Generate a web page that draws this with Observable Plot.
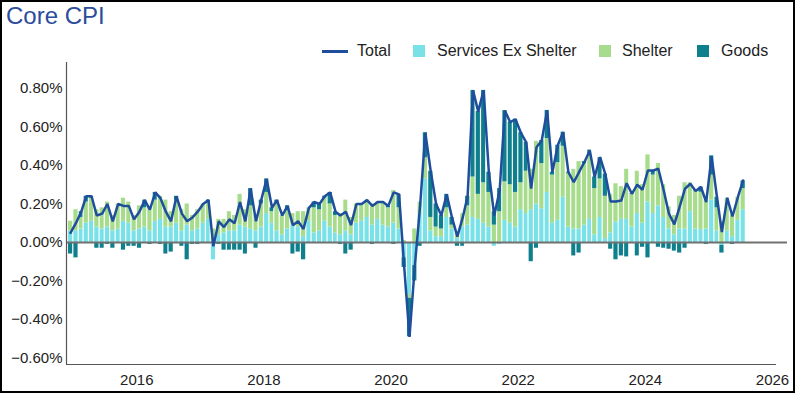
<!DOCTYPE html>
<html><head><meta charset="utf-8">
<script src="https://cdn.jsdelivr.net/npm/d3@7"></script>
<script src="https://cdn.jsdelivr.net/npm/@observablehq/plot@0.6"></script>
<style>
body{margin:0;background:#fff;font-family:"Liberation Sans",Arial,sans-serif;}
#wrap{position:relative;width:795px;height:393px;overflow:hidden;background:#fff}
#frame{position:absolute;left:0;top:0;width:795px;height:393px;box-sizing:border-box;border:2px solid #000;pointer-events:none;z-index:5}
#title{position:absolute;left:6px;top:2px;font-size:24px;color:#2B4C9B;white-space:nowrap}
.lg{position:absolute;font-size:16px;color:#222;white-space:nowrap;line-height:16px}
.sw{position:absolute;width:12px;height:12px}
#chart{position:absolute;left:0;top:60px}
</style></head>
<body>
<div id="wrap">
  <div id="title">Core CPI</div>
  <div id="legend"></div>
  <div id="chart"></div>
  <div id="frame"></div>
</div>
<script>
// Monthly data, Dec 2014 .. Jul 2025 (percent, m/m contributions)
const startMonth = "2014-12";
const total = [0.05,0.10,0.16,0.24,0.24,0.14,0.15,0.20,0.11,0.20,0.19,0.19,0.12,0.16,0.22,0.17,0.26,0.23,0.16,0.11,0.24,0.15,0.11,0.13,0.16,0.20,0.22,-0.02,0.11,0.08,0.12,0.10,0.21,0.11,0.28,0.11,0.22,0.33,0.18,0.22,0.14,0.19,0.09,0.11,0.07,0.18,0.21,0.20,0.24,0.26,0.16,0.14,0.16,0.09,0.20,0.20,0.22,0.19,0.21,0.21,0.19,0.26,0.25,-0.12,-0.49,-0.13,0.19,0.57,0.37,0.20,0.14,0.25,0.13,0.03,0.13,0.24,0.79,0.68,0.79,0.365,0.14,0.27,0.685,0.625,0.64,0.57,0.52,0.28,0.495,0.53,0.686,0.365,0.505,0.573,0.365,0.313,0.365,0.417,0.478,0.34,0.443,0.357,0.213,0.213,0.218,0.308,0.253,0.30,0.274,0.374,0.374,0.383,0.27,0.149,0.094,0.184,0.279,0.305,0.267,0.288,0.21,0.447,0.235,0.054,0.232,0.135,0.235,0.322];
const servicesExShelter = [0.06,0.06,0.07,0.10,0.11,0.08,0.07,0.08,0.06,0.07,0.11,0.10,0.06,0.07,0.08,0.06,0.11,0.12,0.08,0.08,0.10,0.06,0.09,0.06,0.07,0.10,0.12,-0.09,0.04,0.05,0.06,0.06,0.09,0.08,0.07,0.06,0.08,0.15,0.10,0.06,0.04,0.07,0.09,0.08,0.03,0.11,0.05,0.06,0.11,0.08,0.05,0.04,0.06,0.04,0.10,0.11,0.13,0.09,0.12,0.09,0.08,0.10,0.07,-0.08,-0.27,-0.12,0.15,0.33,0.06,0.03,0.03,0.13,0.07,0.02,0.08,0.09,0.13,0.12,0.10,0.08,-0.02,-0.01,0.115,0.10,0.08,0.17,0.15,0.17,0.20,0.175,0.26,0.10,0.115,0.235,0.08,0.07,0.07,0.09,0.12,0.04,0.13,0.02,0.05,0.105,0.12,0.12,0.08,0.15,0.10,0.21,0.15,0.19,0.13,0.07,0.04,0.07,0.07,0.16,0.07,0.066,0.07,0.22,0.06,-0.015,0.06,0.03,0.115,0.17];
const shelter = [0.05,0.11,0.06,0.11,0.12,0.09,0.11,0.13,0.08,0.13,0.12,0.11,0.08,0.12,0.10,0.12,0.11,0.12,0.14,0.08,0.12,0.11,0.11,0.08,0.10,0.10,0.09,0.07,0.08,0.07,0.10,0.08,0.16,0.09,0.12,0.08,0.12,0.11,0.06,0.14,0.10,0.10,0.06,0.08,0.13,0.07,0.13,0.11,0.12,0.12,0.09,0.11,0.16,0.09,0.10,0.09,0.09,0.11,0.09,0.12,0.10,0.17,0.11,0.01,-0.02,0.07,0.06,0.11,0.07,0.05,0.04,0.05,0.02,0.03,0.07,0.10,0.21,0.13,0.21,0.18,0.09,0.16,0.20,0.20,0.18,0.14,0.22,0.21,0.325,0.235,0.28,0.25,0.30,0.265,0.28,0.31,0.35,0.32,0.33,0.24,0.20,0.22,0.20,0.20,0.17,0.26,0.17,0.22,0.20,0.245,0.20,0.22,0.17,0.115,0.10,0.17,0.24,0.15,0.20,0.195,0.15,0.13,0.12,0.11,0.17,0.115,0.12,0.11];
const goods = [-0.06,-0.08,0.03,0.03,0.01,-0.03,-0.03,-0.01,-0.03,0.00,-0.04,-0.02,-0.02,-0.03,0.04,-0.01,0.04,-0.01,-0.06,-0.05,0.02,-0.02,-0.09,-0.01,-0.01,0.00,0.01,0.00,-0.01,-0.04,-0.04,-0.04,-0.04,-0.06,0.09,-0.03,0.02,0.07,0.02,0.02,0.00,0.02,-0.06,-0.05,-0.09,0.00,0.03,0.03,0.01,0.06,0.02,-0.01,-0.06,-0.04,0.00,0.00,0.00,-0.01,0.00,0.00,0.01,-0.01,0.07,-0.05,-0.20,-0.08,-0.02,0.13,0.24,0.12,0.07,0.07,0.04,-0.02,-0.02,0.05,0.45,0.43,0.48,0.105,0.07,0.12,0.37,0.325,0.38,0.26,0.15,-0.10,-0.03,0.12,0.146,0.015,0.09,0.073,0.005,-0.07,-0.055,0.01,0.03,0.06,0.11,0.115,-0.035,-0.09,-0.07,-0.075,0.003,-0.07,-0.025,-0.08,0.024,-0.025,-0.03,-0.035,-0.045,-0.055,-0.03,-0.005,0.00,0.027,-0.01,0.10,0.055,-0.04,0.00,-0.01,0.00,0.04];
const seriesNames = ["Services Ex Shelter","Shelter","Goods"];
const seriesColors = ["#78E2E8","#A6DC8C","#0E7F8C"];
const lineColor = "#1F4E9C";
const yTicks = [-0.6,-0.4,-0.2,0,0.2,0.4,0.6,0.8];
const xTickYears = [2016,2018,2020,2022,2024,2026];

const d0 = d3.utcParse("%Y-%m")(startMonth);
const months = total.map((_, i) => d3.utcMonth.offset(d0, i));
const bars = [];
months.forEach((m, i) => {
  [servicesExShelter[i], shelter[i], goods[i]].forEach((v, k) => bars.push({date: m, value: v, series: seriesNames[k]}));
});
const lineData = months.map((m, i) => ({date: d3.utcDay.offset(m, 15), value: total[i]}));

const xStart = new Date(Date.UTC(2014, 10, 23));
const xEnd = new Date(Date.UTC(2026, 0, 24));
const zeroEnd = new Date(Date.UTC(2026, 2, 28));
const yDom = [-0.634, 0.935];
const fmt = d3.format(".2f");

const chart = Plot.plot({
  width: 795, height: 333,
  marginLeft: 66, marginRight: 19, marginTop: 2, marginBottom: 29,
  style: {fontFamily: "'Liberation Sans', Arial, sans-serif", fontSize: "15px", color: "#222", background: "transparent"},
  x: {type: "utc", domain: [xStart, xEnd], label: null},
  y: {domain: yDom, label: null},
  color: {domain: seriesNames, range: seriesColors},
  marks: [
    Plot.rectY(bars, {x: "date", y: "value", fill: "series", interval: "month", insetLeft: 0.6, insetRight: 0.6}),
    Plot.ruleY([0], {x1: xStart, x2: zeroEnd, stroke: "#707070", strokeWidth: 2}),
    Plot.line(lineData, {x: "date", y: "value", stroke: lineColor, strokeWidth: 2.5, strokeLinejoin: "miter"}),
    Plot.ruleX([xStart], {stroke: "#555", strokeWidth: 1.2}),
    Plot.ruleY([yDom[0]], {stroke: "#555", strokeWidth: 1.2}),
    Plot.axisY({ticks: yTicks, tickFormat: d => fmt(d) + "%", tickSize: 0, tickPadding: 4, fontSize: 15}),
    Plot.axisX({ticks: xTickYears.map(y => new Date(Date.UTC(y, 0, 1))), tickFormat: d3.utcFormat("%Y"), tickSize: 0, tickPadding: 10, fontSize: 15})
  ]
});
document.getElementById("chart").appendChild(chart);

// legend
const lg = document.getElementById("legend");
function add(html){ lg.insertAdjacentHTML("beforeend", html); }
add(`<div style="position:absolute;left:322px;top:50px;width:26px;height:2.5px;background:${lineColor}"></div>`);
add(`<div class="lg" style="left:357px;top:43px">Total</div>`);
const swX = [413, 599, 697], txX = [437, 622, 721];
seriesNames.forEach((n, k) => {
  add(`<div class="sw" style="left:${swX[k]}px;top:45px;background:${seriesColors[k]}"></div>`);
  add(`<div class="lg" style="left:${txX[k]}px;top:43px">${n}</div>`);
});
</script>
</body></html>
